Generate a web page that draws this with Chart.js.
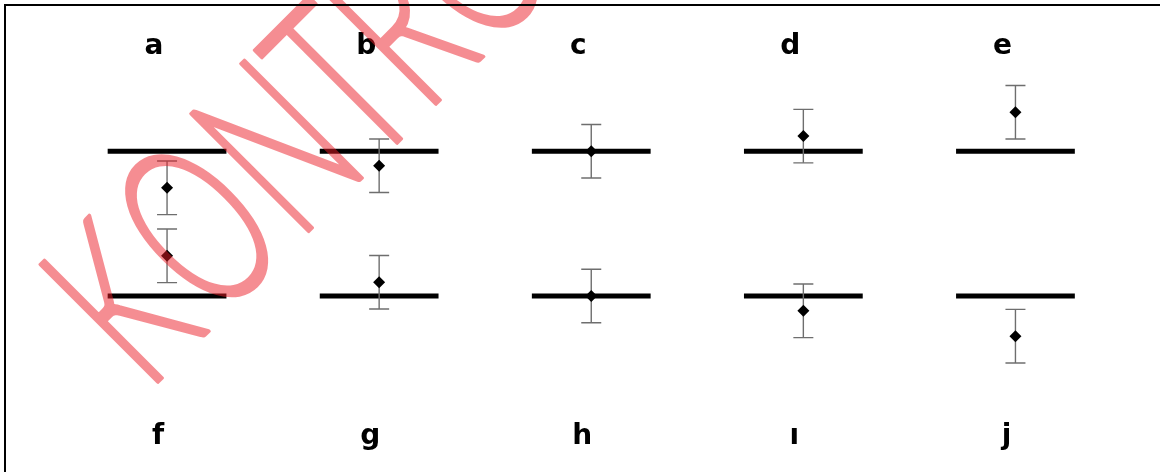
<!DOCTYPE html>
<html>
<head>
<meta charset="utf-8">
<title>Kontrol</title>
<script src="https://cdn.jsdelivr.net/npm/chart.js@4.4.1/dist/chart.umd.min.js"></script>
<style>
  html, body { margin: 0; padding: 0; background: #fff; overflow: hidden; }
  #wrap { width: 1160px; height: 472px; }
</style>
</head>
<body>
<div id="wrap"><canvas id="chart" width="1160" height="472"></canvas></div>
<script>
// panel letters, one per column
const topLabels = ['a', 'b', 'c', 'd', 'e'];
const bottomLabels = ['f', 'g', 'h', 'ı', 'j'];

// reference level of each row (top row, bottom row)
const referenceLevels = [4, 0];

// means and half error bars
const topMeans = [2.99, 3.60, 4.00, 4.42, 5.08];
const topErrors = [0.74, 0.74, 0.74, 0.74, 0.74];
const bottomMeans = [1.11, 0.38, 0.00, -0.41, -1.11];
const bottomErrors = [0.74, 0.74, 0.74, 0.74, 0.74];

const watermarkText = 'KONTROL';

const REF_HALF = 0.28; // half length of a reference bar, in column units
// extra spacing before each watermark letter (px, after squeezing)
const WM_TRACK = [0, 8, 4, -4, -4, 0, 0];

function refLinePoints() {
    const pts = [];
    referenceLevels.forEach(level => {
        topLabels.forEach((_, i) => {
            pts.push({ x: i - REF_HALF, y: level });
            pts.push({ x: i + REF_HALF, y: level });
            pts.push({ x: i, y: null });
        });
    });
    return pts;
}

function errorPoints(means, errs) {
    const pts = [];
    means.forEach((m, i) => {
        pts.push({ x: i, y: m - errs[i] });
        pts.push({ x: i, y: m + errs[i] });
        pts.push({ x: i, y: null });
    });
    return pts;
}

function meanPoints(means) {
    return means.map((m, i) => ({ x: i, y: m }));
}

const labelPlugin = {
    id: 'panelLabels',
    afterDatasetsDraw(chart) {
        const { ctx } = chart;
        const x = chart.scales.x;
        ctx.save();
        ctx.font = 'bold 28px "DejaVu Sans"';
        ctx.fillStyle = '#000';
        ctx.textAlign = 'center';
        ctx.textBaseline = 'alphabetic';
        topLabels.forEach((t, i) => ctx.fillText(t, x.getPixelForValue(i) - 13, 54));
        bottomLabels.forEach((t, i) => ctx.fillText(t, x.getPixelForValue(i) - 9, 444));
        ctx.restore();
    }
};

const watermarkPlugin = {
    id: 'watermark',
    afterDraw(chart) {
        const { ctx } = chart;
        const sx = 0.6;

        // draw opaque on a scratch canvas, then blend it once
        const off = document.createElement('canvas');
        off.width = chart.width;
        off.height = chart.height;
        const o = off.getContext('2d');
        o.translate(147, 393);
        o.rotate(-Math.PI / 4);
        o.scale(sx, 1);
        o.font = '300 235px Lato, "Liberation Sans"';
        o.fillStyle = 'rgb(235, 29, 39)';
        o.strokeStyle = 'rgb(235, 29, 39)';
        o.lineWidth = 3.5;
        o.lineJoin = 'round';
        o.textBaseline = 'alphabetic';
        let pos = 0;
        watermarkText.split('').forEach((ch, i) => {
            pos += WM_TRACK[i] / sx;
            o.fillText(ch, pos, 0);
            o.strokeText(ch, pos, 0);
            pos += o.measureText(ch).width;
        });

        ctx.save();
        ctx.globalAlpha = 0.5;
        ctx.drawImage(off, 0, 0);
        ctx.restore();

        // frame: left and top edges only
        ctx.save();
        ctx.strokeStyle = '#000';
        ctx.lineWidth = 2;
        ctx.beginPath();
        ctx.moveTo(5, chart.height);
        ctx.lineTo(5, 5);
        ctx.lineTo(chart.width, 5);
        ctx.stroke();
        ctx.restore();
    }
};

new Chart(document.getElementById('chart'), {
    type: 'scatter',
    data: {
        datasets: [
            {
                label: 'means',
                data: meanPoints(topMeans).concat(meanPoints(bottomMeans)),
                pointStyle: 'rectRot',
                pointRadius: 6,
                pointHoverRadius: 6,
                backgroundColor: '#000',
                borderColor: '#000',
                borderWidth: 0,
                order: 0
            },
            {
                label: 'errors',
                data: errorPoints(topMeans, topErrors).concat(errorPoints(bottomMeans, bottomErrors)),
                showLine: true,
                spanGaps: false,
                borderColor: '#6e6e6e',
                borderWidth: 1.4,
                pointStyle: 'line',
                pointRadius: 10,
                pointHoverRadius: 10,
                pointBorderColor: '#6e6e6e',
                pointBorderWidth: 1.4,
                order: 1
            },
            {
                label: 'reference',
                data: refLinePoints(),
                showLine: true,
                spanGaps: false,
                borderColor: '#000',
                borderWidth: 5,
                borderCapStyle: 'butt',
                pointRadius: 0,
                pointHoverRadius: 0,
                order: 2
            }
        ]
    },
    options: {
        responsive: false,
        animation: false,
        devicePixelRatio: 1,
        events: [],
        layout: { autoPadding: false, padding: { left: 61, right: 38.5, top: 0, bottom: 0 } },
        plugins: {
            legend: { display: false },
            tooltip: { enabled: false }
        },
        scales: {
            x: { type: 'linear', min: -0.5, max: 4.5, display: false },
            y: { type: 'linear', min: -4.865, max: 8.182, display: false }
        }
    },
    plugins: [labelPlugin, watermarkPlugin]
});
</script>
</body>
</html>
